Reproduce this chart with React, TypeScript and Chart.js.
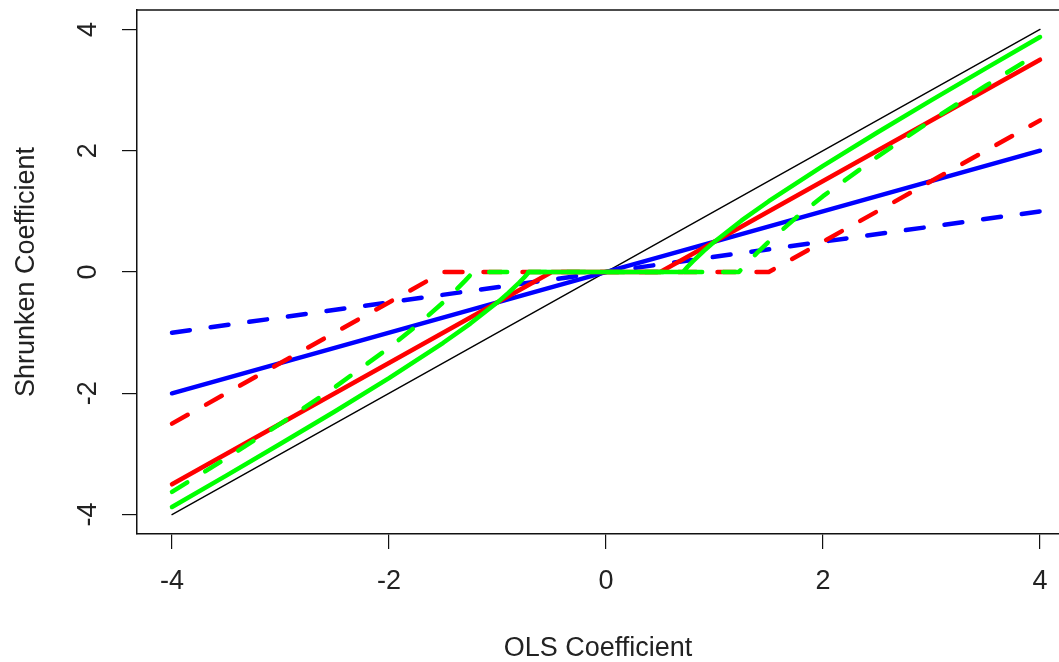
import React, { useEffect, useRef } from "react";
import { Chart, registerables } from "chart.js";

Chart.register(...registerables);

// OLS coefficient axis ticks
const xTickValues = [-4, -2, 0, 2, 4];
const yTickValues = [-4, -2, 0, 2, 4];

// identity (no shrinkage)
const xIdentity = [-4, 4];
const yIdentity = [-4, 4];

// ridge-type proportional shrinkage
const xRidge = [-4, 4];
const yRidgeSolid = [-2, 2];
const yRidgeDashed = [-1, 1];

// lasso soft-thresholding
const xLassoSolid = [-4, -0.5, 0.5, 4];
const yLassoSolid = [-3.5, 0, 0, 3.5];
const xLassoDashed = [-4, -1.5, 1.5, 4];
const yLassoDashed = [-2.5, 0, 0, 2.5];

// garrote-type shrinkage
const xGarroteSolid = [-4, -3.5, -3, -2.5, -2, -1.5, -1.25, -1, -0.9, -0.8, -0.75, -0.71, 0.71, 0.75, 0.8, 0.9, 1, 1.25, 1.5, 2, 2.5, 3, 3.5, 4];
const yGarroteSolid = [-3.875, -3.357, -2.833, -2.3, -1.75, -1.167, -0.85, -0.5, -0.344, -0.175, -0.083, 0, 0, 0.083, 0.175, 0.344, 0.5, 0.85, 1.167, 1.75, 2.3, 2.833, 3.357, 3.875];
const xGarroteDashed = [-4, -3.5, -3, -2.5, -2, -1.75, -1.5, -1.4, -1.3, -1.25, -1.225, 1.225, 1.25, 1.3, 1.4, 1.5, 1.75, 2, 2.5, 3, 3.5, 4];
const yGarroteDashed = [-3.625, -3.071, -2.5, -1.9, -1.25, -0.893, -0.5, -0.329, -0.146, -0.05, 0, 0, 0.05, 0.146, 0.329, 0.5, 0.893, 1.25, 1.9, 2.5, 3.071, 3.625];

const xTitle = "OLS Coefficient";
const yTitle = "Shrunken Coefficient";

const pts = (xs: number[], ys: number[]) => xs.map((x, i) => ({ x, y: ys[i] }));

const FONT = "'Liberation Sans', Arial, sans-serif";
const TEXT = "#222";

const framePlugin = {
  id: "frameTop",
  afterDraw(chart: any) {
    const { ctx, chartArea } = chart;
    ctx.save();
    ctx.strokeStyle = "#111";
    ctx.lineWidth = 1.5;
    ctx.beginPath();
    ctx.moveTo(chartArea.left, chartArea.top);
    ctx.lineTo(chartArea.right, chartArea.top);
    ctx.stroke();
    ctx.restore();
  },
};

export default function App() {
  const ref = useRef<HTMLCanvasElement | null>(null);

  useEffect(() => {
    if (!ref.current) return;
    const thick = 4.5;
    const dash = [18, 21];
    const chart = new Chart(ref.current, {
      type: "line",
      data: {
        datasets: [
          { data: pts(xIdentity, yIdentity), borderColor: "#000", borderWidth: 1.4, order: 7 },
          { data: pts(xRidge, yRidgeSolid), borderColor: "#0000ff", borderWidth: thick, order: 6 },
          { data: pts(xRidge, yRidgeDashed), borderColor: "#0000ff", borderWidth: thick, borderDash: dash, order: 5 },
          { data: pts(xLassoSolid, yLassoSolid), borderColor: "#ff0000", borderWidth: thick, order: 4 },
          { data: pts(xLassoDashed, yLassoDashed), borderColor: "#ff0000", borderWidth: thick, borderDash: dash, order: 3 },
          { data: pts(xGarroteSolid, yGarroteSolid), borderColor: "#00ff00", borderWidth: thick, order: 2 },
          { data: pts(xGarroteDashed, yGarroteDashed), borderColor: "#00ff00", borderWidth: thick, borderDash: dash, order: 1 },
        ].map((d) => ({
          ...d,
          pointRadius: 0,
          pointHoverRadius: 0,
          fill: false,
          tension: 0,
          borderCapStyle: "round" as const,
          borderJoinStyle: "round" as const,
        })),
      },
      options: {
        animation: false,
        responsive: false,
        maintainAspectRatio: false,
        events: [],
        layout: { padding: { top: 10, right: 0, bottom: 0, left: 0 } },
        plugins: {
          legend: { display: false },
          tooltip: { enabled: false },
          title: { display: false },
        },
        scales: {
          x: {
            type: "linear",
            min: -4.3226,
            max: 4.175,
            afterBuildTicks: (s: any) => {
              s.ticks = xTickValues.map((v) => ({ value: v }));
            },
            afterFit: (s: any) => {
              s.height = 128;
              s.paddingLeft = 0;
              s.paddingRight = 0;
              s.paddingTop = 0;
              s.paddingBottom = 0;
            },
            grid: {
              display: true,
              drawOnChartArea: false,
              drawTicks: true,
              tickLength: 15,
              color: "#111",
              lineWidth: 1.2,
            },
            border: { display: true, color: "#111", width: 1.5 },
            ticks: {
              color: TEXT,
              font: { family: FONT, size: 27 },
              padding: 16,
              maxRotation: 0,
              minRotation: 0,
              autoSkip: false,
              callback: (v: any) => String(v),
            },
            title: {
              display: true,
              text: xTitle,
              color: TEXT,
              font: { family: FONT, size: 27, lineHeight: 1 },
              padding: { top: 0, bottom: 0 },
            },
          },
          y: {
            type: "linear",
            min: -4.32,
            max: 4.32,
            afterBuildTicks: (s: any) => {
              s.ticks = yTickValues.map((v) => ({ value: v }));
            },
            afterFit: (s: any) => {
              s.width = 137;
              s.paddingLeft = 0;
              s.paddingRight = 0;
              s.paddingTop = 0;
              s.paddingBottom = 0;
            },
            grid: {
              display: true,
              drawOnChartArea: false,
              drawTicks: true,
              tickLength: 15,
              color: "#111",
              lineWidth: 1.2,
            },
            border: { display: true, color: "#111", width: 1.5 },
            ticks: {
              color: TEXT,
              font: { family: FONT, size: 27 },
              padding: 21,
              minRotation: 90,
              maxRotation: 90,
              crossAlign: "center",
              autoSkip: false,
              callback: (v: any) => String(v),
            },
            title: {
              display: true,
              text: yTitle,
              color: TEXT,
              font: { family: FONT, size: 27, lineHeight: 1 },
              padding: { top: 13, bottom: 0 },
            },
          },
        },
      },
      plugins: [framePlugin],
    });
    return () => chart.destroy();
  }, []);

  return (
    <div style={{ position: "fixed", left: 0, top: 0, width: 1059, height: 662, background: "#fff" }}>
      <canvas ref={ref} width={1059} height={662} style={{ display: "block" }} />
    </div>
  );
}
